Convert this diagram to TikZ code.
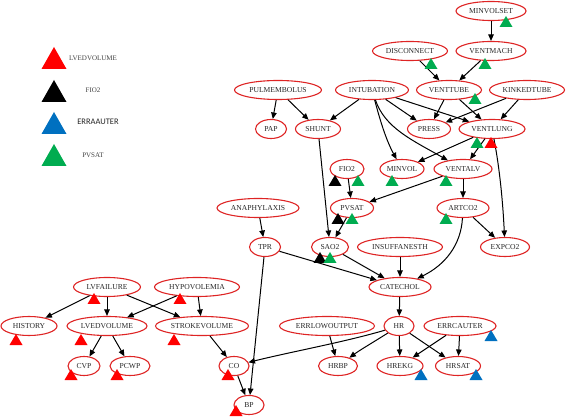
\documentclass[tikz,border=0pt]{standalone}
\usepackage{fontspec}
\setmainfont{Liberation Serif}
\newfontfamily\calfont{Carlito}
\usetikzlibrary{shapes.geometric,arrows.meta}
\definecolor{nred}{RGB}{222,36,36}
\definecolor{tgreen}{RGB}{0,172,80}
\definecolor{tblue}{RGB}{0,112,192}
\definecolor{tred}{RGB}{255,0,0}
\newcommand\tmark[3]{\fill[#1] (#2,#3) ++(-6.5,0) -- ++(13,0) -- ++(-6.5,-11) -- cycle;}
\newcommand\lmark[2]{\fill[#1] (54,#2) ++(-12.5,0) -- ++(25,0) -- ++(-12.5,-22) -- cycle;}
\begin{document}
\begin{tikzpicture}[x=1pt,y=-1pt,
  nd/.style={ellipse,draw=nred,line width=1.1pt,minimum height=19pt,inner sep=0pt,
    font=\fontsize{7.6}{8}\selectfont,text=black!85},
  ed/.style={line width=1pt,-{Triangle[length=6.5pt,width=5.5pt]}},
  lg/.style={font=\fontsize{7}{8}\selectfont,text=black!75,inner sep=0pt}]
\useasboundingbox (0,0) rectangle (567,419);
% legend
\lmark{tred}{69}
\lmark{black}{102}
\lmark{tblue}{134}
\lmark{tgreen}{166}
\node[lg] (l1) at (93,58) {LVEDVOLUME};
\node[lg] (l2) at (93,90) {FIO2};
\node[lg,font=\calfont\fontsize{8.5}{9}\selectfont,text=black!85] (l3) at (98,122) {ERRAAUTER};
\node[lg] (l4) at (93,155) {PVSAT};
% nodes
\node[nd,minimum width=70pt] (minvolset) at (491,11) {MINVOLSET};
\node[nd,minimum width=75pt] (disconnect) at (410,51) {DISCONNECT};
\node[nd,minimum width=70pt] (ventmach) at (491,51) {VENTMACH};
\node[nd,minimum width=87pt] (pulmembolus) at (278,90) {PULMEMBOLUS};
\node[nd,minimum width=73pt] (intubation) at (372,90) {INTUBATION};
\node[nd,minimum width=65pt] (venttube) at (449,90) {VENTTUBE};
\node[nd,minimum width=75pt] (kinkedtube) at (527,90) {KINKEDTUBE};
\node[nd,minimum width=31pt] (pap) at (271,129) {PAP};
\node[nd,minimum width=45pt] (shunt) at (318,129) {SHUNT};
\node[nd,minimum width=43pt] (press) at (429,129) {PRESS};
\node[nd,minimum width=66pt] (ventlung) at (492,129) {VENTLUNG};
\node[nd,minimum width=34pt] (fio2) at (347,169) {FIO2};
\node[nd,minimum width=44pt] (minvol) at (402,169) {MINVOL};
\node[nd,minimum width=58pt] (ventalv) at (463,169) {VENTALV};
\node[nd,minimum width=82pt] (anaphylaxis) at (258,208) {ANAPHYLAXIS};
\node[nd,minimum width=43pt] (pvsat) at (352,208) {PVSAT};
\node[nd,minimum width=52pt] (artco2) at (463,208) {ARTCO2};
\node[nd,minimum width=31pt] (tpr) at (265,247) {TPR};
\node[nd,minimum width=37pt] (sao2) at (330,247) {SAO2};
\node[nd,minimum width=85pt] (insuffanesth) at (400,247) {INSUFFANESTH};
\node[nd,minimum width=49pt] (expco2) at (505,247) {EXPCO2};
\node[nd,minimum width=67pt] (lvfailure) at (107,287) {LVFAILURE};
\node[nd,minimum width=85pt] (hypovolemia) at (197,287) {HYPOVOLEMIA};
\node[nd,minimum width=62pt] (catechol) at (400,287) {CATECHOL};
\node[nd,minimum width=56pt] (history) at (29,326) {HISTORY};
\node[nd,minimum width=80pt] (lvedvolume) at (107,326) {LVEDVOLUME};
\node[nd,minimum width=93pt] (strokevolume) at (202,326) {STROKEVOLUME};
\node[nd,minimum width=95pt] (errlowoutput) at (327,326) {ERRLOWOUTPUT};
\node[nd,minimum width=30pt] (hr) at (399,326) {HR};
\node[nd,minimum width=72pt] (errcauter) at (460,326) {ERRCAUTER};
\node[nd,minimum width=32pt] (cvp) at (84,366) {CVP};
\node[nd,minimum width=40pt] (pcwp) at (130,366) {PCWP};
\node[nd,minimum width=30pt] (co) at (234,366) {CO};
\node[nd,minimum width=39pt] (hrbp) at (338,366) {HRBP};
\node[nd,minimum width=46pt] (hrekg) at (400,366) {HREKG};
\node[nd,minimum width=45pt] (hrsat) at (458,366) {HRSAT};
\node[nd,minimum width=30pt] (bp) at (249,405) {BP};
% edges
\draw[ed] (minvolset) -- (ventmach);
\draw[ed] (disconnect) -- (venttube);
\draw[ed] (ventmach) -- (venttube);
\draw[ed] (pulmembolus) -- (pap);
\draw[ed] (pulmembolus) -- (shunt);
\draw[ed] (intubation) -- (shunt);
\draw[ed] (intubation) -- (press);
\draw[ed] (intubation) -- (ventlung);
\draw[ed] (intubation) .. controls (380,120) and (386,140) .. (minvol);
\draw[ed] (intubation) .. controls (385,128) and (412,140) .. (ventalv);
\draw[ed] (venttube) -- (press);
\draw[ed] (venttube) -- (ventlung);
\draw[ed] (kinkedtube) -- (press);
\draw[ed] (kinkedtube) -- (ventlung);
\draw[ed] (ventlung) -- (minvol);
\draw[ed] (ventlung) -- (ventalv);
\draw[ed] (ventlung) .. controls (500,170) and (503,205) .. (expco2);
\draw[ed] (ventalv) -- (artco2);
\draw[ed] (ventalv) -- (pvsat);
\draw[ed] (fio2) -- (pvsat);
\draw[ed] (pvsat) -- (sao2);
\draw[ed] (shunt) -- (sao2);
\draw[ed] (artco2) -- (expco2);
\draw[ed] (artco2) .. controls (461,245) and (445,265) .. (catechol);
\draw[ed] (sao2) -- (catechol);
\draw[ed] (tpr) -- (catechol);
\draw[ed] (insuffanesth) -- (catechol);
\draw[ed] (anaphylaxis) -- (tpr);
\draw[ed] (tpr) -- (bp);
\draw[ed] (catechol) -- (hr);
\draw[ed] (hr) -- (hrekg);
\draw[ed] (hr) -- (hrsat);
\draw[ed] (hr) .. controls (372,343) and (360,350) .. (hrbp);
\draw[ed] (hr) .. controls (345,342) and (290,352) .. (co);
\draw[ed] (errcauter) -- (hrekg);
\draw[ed] (errcauter) -- (hrsat);
\draw[ed] (errlowoutput) -- (hrbp);
\draw[ed] (lvfailure) -- (history);
\draw[ed] (lvfailure) -- (lvedvolume);
\draw[ed] (lvfailure) -- (strokevolume);
\draw[ed] (hypovolemia) -- (lvedvolume);
\draw[ed] (hypovolemia) -- (strokevolume);
\draw[ed] (lvedvolume) -- (cvp);
\draw[ed] (lvedvolume) -- (pcwp);
\draw[ed] (strokevolume) -- (co);
\draw[ed] (co) -- (bp);
% markers
\tmark{tgreen}{506}{27}
\tmark{tgreen}{485}{69}
\tmark{tgreen}{431}{69}
\tmark{tgreen}{475}{104}
\tmark{tgreen}{477}{148}
\tmark{tred}{491}{148}
\tmark{tgreen}{392}{186}
\tmark{tgreen}{446}{186}
\tmark{tgreen}{446}{224}
\tmark{black}{335}{186}
\tmark{tgreen}{358}{186}
\tmark{black}{338}{224}
\tmark{tgreen}{352}{224}
\tmark{black}{320}{263}
\tmark{tgreen}{330}{263}
\tmark{tred}{94}{304}
\tmark{tred}{180}{304}
\tmark{tred}{16}{345}
\tmark{tred}{81}{345}
\tmark{tred}{174}{345}
\tmark{tred}{71}{380}
\tmark{tred}{117}{380}
\tmark{tred}{228}{380}
\tmark{tred}{236}{416}
\tmark{tblue}{491}{341}
\tmark{tblue}{421}{380}
\tmark{tblue}{476}{380}
\end{tikzpicture}
\end{document}
